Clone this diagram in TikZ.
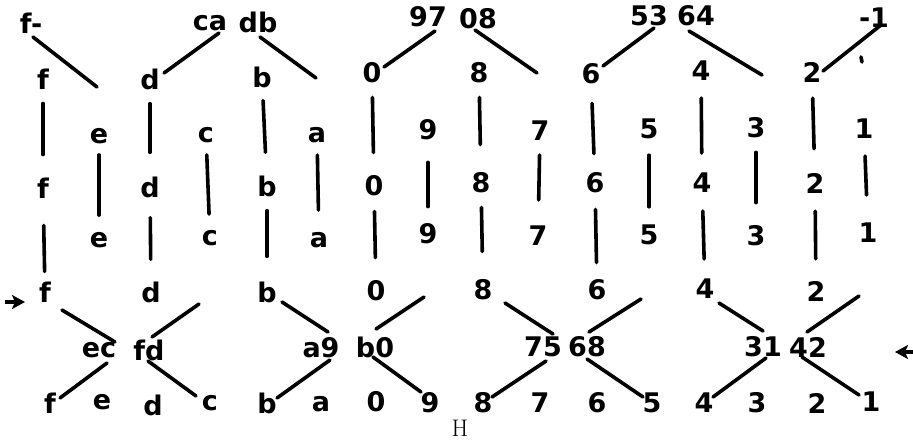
\documentclass[tikz,border=0pt]{standalone}
\usepackage{fontspec}
\newfontfamily\hand{DejaVu Sans}
\usetikzlibrary{calc,arrows.meta}
\begin{document}
\begin{tikzpicture}[x=1pt,y=-1pt,
  lbl/.style={font=\hand\bfseries\fontsize{27}{30}\selectfont, inner sep=0pt},
  link/.style={line width=3.6pt, line cap=round},
  pointer/.style={line width=3.5pt, -{Stealth[length=13pt,width=14pt,inset=3pt]}}]
\useasboundingbox (0,0) rectangle (913,440);
% row 1 (top pairs)
\node[lbl] (T1) at (31,23) {f-};
\node[lbl] (T2) at (210,23) {ca};
\node[lbl] (T3) at (258,22) {db};
\node[lbl] (T4) at (428,17) {97};
\node[lbl] (T5) at (478,19) {08};
\node[lbl] (T6) at (649,16) {53};
\node[lbl] (T7) at (696,16) {64};
\node[lbl] (T8) at (874,18) {-1};
% row 2
\node[lbl] (E1r2) at (43,79) {f};
\node[lbl] (E2r2) at (150,79) {d};
\node[lbl] (E3r2) at (262,77) {b};
\node[lbl] (E4r2) at (372,73) {0};
\node[lbl] (E5r2) at (479,73) {8};
\node[lbl] (E6r2) at (591,74) {6};
\node[lbl] (E7r2) at (701,71) {4};
\node[lbl] (E8r2) at (812,72) {2};
% row 3
\node[lbl] (O1r3) at (99,136) {e};
\node[lbl] (O2r3) at (206,135) {c};
\node[lbl] (O3r3) at (317,135) {a};
\node[lbl] (O4r3) at (428,130) {9};
\node[lbl] (O5r3) at (540,131) {7};
\node[lbl] (O6r3) at (649,129) {5};
\node[lbl] (O7r3) at (756,128) {3};
\node[lbl] (O8r3) at (864,129) {1};
% row 4
\node[lbl] (E1r4) at (43,188) {f};
\node[lbl] (E2r4) at (150,187) {d};
\node[lbl] (E3r4) at (267,186) {b};
\node[lbl] (E4r4) at (374,186) {0};
\node[lbl] (E5r4) at (481,183) {8};
\node[lbl] (E6r4) at (595,183) {6};
\node[lbl] (E7r4) at (702,183) {4};
\node[lbl] (E8r4) at (815,183) {2};
% row 5
\node[lbl] (O1r5) at (99,240) {e};
\node[lbl] (O2r5) at (210,238) {c};
\node[lbl] (O3r5) at (319,240) {a};
\node[lbl] (O4r5) at (428,234) {9};
\node[lbl] (O5r5) at (538,236) {7};
\node[lbl] (O6r5) at (649,235) {5};
\node[lbl] (O7r5) at (756,236) {3};
\node[lbl] (O8r5) at (868,233) {1};
% row 6
\node[lbl] (E1r6) at (45,292) {f};
\node[lbl] (E2r6) at (151,292) {d};
\node[lbl] (E3r6) at (267,292) {b};
\node[lbl] (E4r6) at (376,291) {0};
\node[lbl] (E5r6) at (483,290) {8};
\node[lbl] (E6r6) at (597,290) {6};
\node[lbl] (E7r6) at (705,289) {4};
\node[lbl] (E8r6) at (816,291) {2};
% row 7 (middle pairs)
\node[lbl] (M1) at (99,350) {ec};
\node[lbl] (M2) at (149,350) {fd};
\node[lbl] (M3) at (321,348) {a9};
\node[lbl] (M4) at (375,347) {b0};
\node[lbl] (M5) at (543,347) {75};
\node[lbl] (M6) at (587,347) {68};
\node[lbl] (M7) at (763,347) {31};
\node[lbl] (M8) at (808,347) {42};
% row 8
\node[lbl] (B1) at (50,403) {f};
\node[lbl] (B2) at (102,402) {e};
\node[lbl] (B3) at (153,405) {d};
\node[lbl] (B4) at (210,403) {c};
\node[lbl] (B5) at (267,403) {b};
\node[lbl] (B6) at (321,404) {a};
\node[lbl] (B7) at (376,402) {0};
\node[lbl] (B8) at (430,403) {9};
\node[lbl] (B9) at (483,403) {8};
\node[lbl] (B10) at (540,403) {7};
\node[lbl] (B11) at (597,403) {6};
\node[lbl] (B12) at (652,403) {5};
\node[lbl] (B13) at (704,403) {4};
\node[lbl] (B14) at (757,403) {3};
\node[lbl] (B15) at (817,403) {2};
\node[lbl] (B16) at (871,402) {1};
\node[font=\fontsize{24}{26}\selectfont, inner sep=0pt] (H) at (460,428) {H};
% free ends
\coordinate (X1) at (97,87);
\coordinate (X2) at (316,78);
\coordinate (X3) at (537,73);
\coordinate (X4) at (762,75);
\coordinate (X5) at (199,304);
\coordinate (X6) at (424,297);
\coordinate (X7) at (641,299);
\coordinate (X8) at (859,296);
\coordinate (tk0) at (861,57);
\coordinate (tk1) at (862,62);
\coordinate (la0) at (5,302);
\coordinate (la1) at (25,302);
\coordinate (ra0) at (916,352);
\coordinate (ra1) at (895,352);
% vertical links, even columns
\draw[link, shorten <=14pt, shorten >=23pt] (E1r2) -- (E1r4);
\draw[link, shorten <=27pt, shorten >=10pt] (E1r4) -- (E1r6);
\draw[link, shorten <=14pt, shorten >=24pt] (E2r2) -- (E2r4);
\draw[link, shorten <=20pt, shorten >=22pt] (E2r4) -- (E2r6);
\draw[link, shorten <=13pt, shorten >=23pt] (E3r2) -- (E3r4);
\draw[link, shorten <=14pt, shorten >=25pt] (E3r4) -- (E3r6);
\draw[link, shorten <=14pt, shorten >=23pt] (E4r2) -- (E4r4);
\draw[link, shorten <=15pt, shorten >=23pt] (E4r4) -- (E4r6);
\draw[link, shorten <=14pt, shorten >=28pt] (E5r2) -- (E5r4);
\draw[link, shorten <=14pt, shorten >=28pt] (E5r4) -- (E5r6);
\draw[link, shorten <=19pt, shorten >=19pt] (E6r2) -- (E6r4);
\draw[link, shorten <=16pt, shorten >=17pt] (E6r4) -- (E6r6);
\draw[link, shorten <=17pt, shorten >=20pt] (E7r2) -- (E7r4);
\draw[link, shorten <=18pt, shorten >=20pt] (E7r4) -- (E7r6);
\draw[link, shorten <=16pt, shorten >=24pt] (E8r2) -- (E8r4);
\draw[link, shorten <=18pt, shorten >=22pt] (E8r4) -- (E8r6);
% vertical links, odd columns
\draw[link, shorten <=11pt, shorten >=17pt] (O1r3) -- (O1r5);
\draw[link, shorten <=12pt, shorten >=16pt] (O2r3) -- (O2r5);
\draw[link, shorten <=12pt, shorten >=22pt] (O3r3) -- (O3r5);
\draw[link, shorten <=22pt, shorten >=17pt] (O4r3) -- (O4r5);
\draw[link, shorten <=14pt, shorten >=26pt] (O5r3) -- (O5r5);
\draw[link, shorten <=16pt, shorten >=18pt] (O6r3) -- (O6r5);
\draw[link, shorten <=14pt, shorten >=23pt] (O7r3) -- (O7r5);
\draw[link, shorten <=17pt, shorten >=28pt] (O8r3) -- (O8r5);
% top diagonals
\draw[link] ($(T1)+(2,14)$) -- (X1);
\draw[link] ($(T2)+(9,10)$) -- ($(E2r2)+(14,-6)$);
\draw[link] ($(T3)+(2,15)$) -- (X2);
\draw[link] ($(T4)+(7,14)$) -- ($(E4r2)+(12,-6)$);
\draw[link] ($(T5)+(-3,11)$) -- (X3);
\draw[link] ($(T6)+(5,12)$) -- ($(E6r2)+(12,-8)$);
\draw[link] ($(T7)+(-7,15)$) -- (X4);
\draw[link] ($(T8)+(7,7)$) -- ($(E8r2)+(11,-1)$);
\draw[link] (tk0) -- (tk1);
% bottom diagonals
\draw[link] ($(E1r6)+(17,18)$) -- ($(M1)+(16,-8)$);
\draw[link] ($(M2)+(3,-13)$) -- (X5);
\draw[link] ($(M1)+(8,13)$) -- ($(B1)+(10,-5)$);
\draw[link] ($(M2)+(-1,11)$) -- ($(B4)+(-14,-7)$);
\draw[link] ($(E3r6)+(15,10)$) -- ($(M3)+(7,-16)$);
\draw[link] ($(M3)+(9,12)$) -- ($(B5)+(10,-5)$);
\draw[link] ($(M4)+(1,-18)$) -- (X6);
\draw[link] ($(M4)+(-2,10)$) -- ($(B8)+(-9,-11)$);
\draw[link] ($(E5r6)+(22,13)$) -- ($(M5)+(10,-13)$);
\draw[link] ($(M5)+(3,14)$) -- ($(B9)+(9,-6)$);
\draw[link] ($(M6)+(2,-15)$) -- (X7);
\draw[link] ($(M6)+(0,12)$) -- ($(B12)+(-9,-6)$);
\draw[link] ($(E7r6)+(14,14)$) -- ($(M7)+(0,-16)$);
\draw[link] ($(M7)+(3,11)$) -- ($(B13)+(9,-6)$);
\draw[link] ($(M8)+(-1,-15)$) -- (X8);
\draw[link] ($(M8)+(-6,10)$) -- ($(B16)+(-12,-7)$);
% side arrows
\draw[pointer] (la0) -- (la1);
\draw[pointer] (ra0) -- (ra1);
\end{tikzpicture}
\end{document}
